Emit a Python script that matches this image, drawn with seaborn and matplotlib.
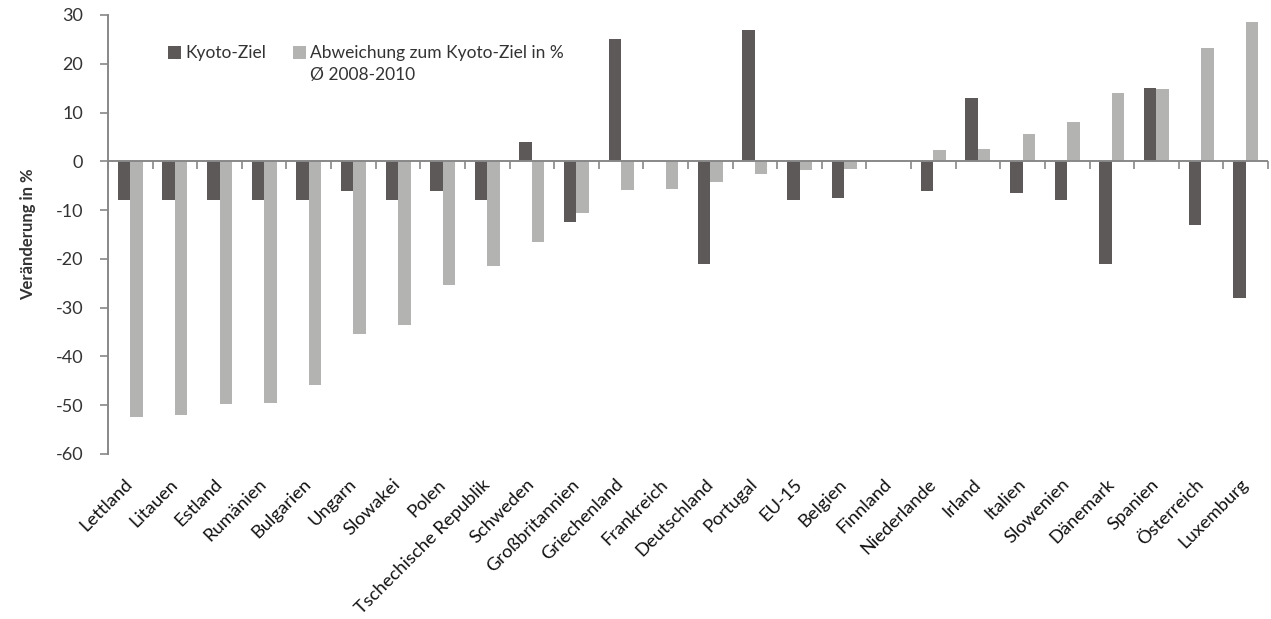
import matplotlib
matplotlib.use("Agg")
import matplotlib.pyplot as plt
from matplotlib.patches import Patch
from matplotlib.markers import TICKDOWN
import numpy as np
import pandas as pd
import seaborn as sns

countries = ["Lettland", "Litauen", "Estland", "Rumänien", "Bulgarien", "Ungarn",
             "Slowakei", "Polen", "Tschechische Republik", "Schweden", "Großbritannien",
             "Griechenland", "Frankreich", "Deutschland", "Portugal", "EU-15", "Belgien",
             "Finnland", "Niederlande", "Irland", "Italien", "Slowenien", "Dänemark",
             "Spanien", "Österreich", "Luxemburg"]
kyoto_ziel = [-8, -8, -8, -8, -8, -6, -8, -6, -8, 4, -12.5, 25, 0, -21, 27, -8, -7.5,
              0, -6, 13, -6.5, -8, -21, 15, -13, -28]
abweichung = [-52.5, -52.1, -49.8, -49.6, -45.9, -35.4, -33.5, -25.3, -21.4, -16.5,
              -10.6, -5.8, -5.6, -4.3, -2.7, -1.8, -1.6, 0, 2.3, 2.5, 5.5, 8.0, 14.1,
              14.8, 23.2, 28.6]
series_names = ["Kyoto-Ziel", "Abweichung zum Kyoto-Ziel in %"]
legend_note = "Ø 2008-2010"
y_ticks = [-60, -50, -40, -30, -20, -10, 0, 10, 20, 30]

df = pd.DataFrame({
    "Land": countries * 2,
    "Wert": kyoto_ziel + abweichung,
    "Serie": [series_names[0]] * len(countries) + [series_names[1]] * len(countries),
})

sns.set_style("white")
plt.rcParams["font.family"] = ["Lato", "DejaVu Sans"]
plt.rcParams["axes.unicode_minus"] = False
text_col = "#333333"
axis_col = "#888888"

fig = plt.figure(figsize=(12.71, 6.19), dpi=100)
ax = fig.add_axes([0.085, 0.2666, 0.9126, 0.7092])

sns.barplot(data=df, x="Land", y="Wert", hue="Serie", order=countries,
            hue_order=series_names, palette=["#5e5957", "#b3b3b1"],
            width=0.56, edgecolor="none", linewidth=0, ax=ax)

ax.set_ylim(-60, 30)
ax.set_xlim(-0.5, len(countries) - 0.5)
ax.set_yticks(y_ticks)
ax.tick_params(axis="y", direction="out", length=6, width=1.2, color=axis_col,
               labelsize=13, labelcolor=text_col, pad=12, left=True)
ax.set_ylabel("Veränderung in %", fontsize=12, fontweight="bold", color=text_col,
              labelpad=14)
ax.set_xlabel("")

for s in ["top", "right", "bottom"]:
    ax.spines[s].set_visible(False)
ax.spines["left"].set_color(axis_col)
ax.spines["left"].set_linewidth(1.4)

# category labels below the plot, no tick marks
ax.tick_params(axis="x", length=0, pad=20, labelsize=13.2, labelcolor="#111111")
for lbl in ax.get_xticklabels():
    lbl.set_rotation(45)
    lbl.set_ha("right")
    lbl.set_va("center")
    lbl.set_rotation_mode("anchor")

# zero line with small tick marks between the categories
boundaries = np.arange(-0.5, len(countries), 1.0)
ax.axhline(0, color=axis_col, linewidth=1.4, zorder=3)
ax.plot(boundaries, np.zeros_like(boundaries), linestyle="none", marker=TICKDOWN,
        markersize=6, markeredgewidth=1.2, color=axis_col, clip_on=False, zorder=3)

# legend: two columns, the second label continues on a second row
handles, labels = ax.get_legend_handles_labels()
blank = Patch(facecolor="none", edgecolor="none")
ax.legend(handles=[handles[0], blank, handles[1], blank],
          labels=[labels[0], "", labels[1], legend_note],
          loc="upper left", bbox_to_anchor=(0.127, 0.938),
          bbox_transform=fig.transFigure, ncol=2, frameon=False, fontsize=12.5,
          labelcolor=text_col, handlelength=0.75, handleheight=0.75,
          handletextpad=0.25, columnspacing=1.5, labelspacing=0.35,
          borderaxespad=0)

fig.savefig("out.png", dpi=100)
